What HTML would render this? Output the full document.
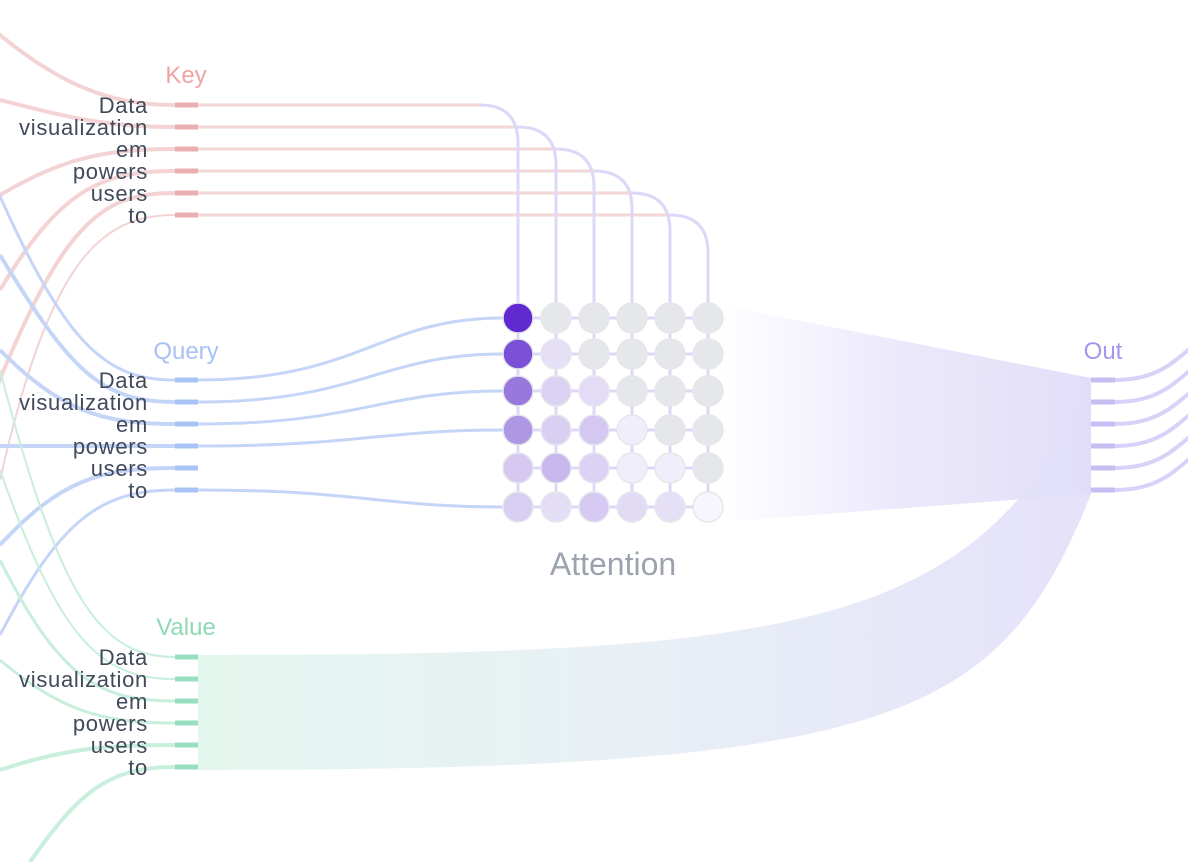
<!DOCTYPE html>
<html><head><meta charset="utf-8"><style>
html,body{margin:0;padding:0;background:#fff;}
svg{display:block;font-family:"Liberation Sans",sans-serif;}
</style></head><body>
<svg width="1188" height="862" viewBox="0 0 1188 862" xmlns="http://www.w3.org/2000/svg">
<defs>
<linearGradient id="att" x1="720" y1="0" x2="1091" y2="0" gradientUnits="userSpaceOnUse">
<stop offset="0" stop-color="#e4e0fa" stop-opacity="0"/><stop offset="0.5" stop-color="#e6e2fa" stop-opacity="0.8"/><stop offset="1" stop-color="#e2defa"/></linearGradient>
<linearGradient id="val" x1="198" y1="0" x2="1091" y2="0" gradientUnits="userSpaceOnUse">
<stop offset="0" stop-color="#e0f5ec"/><stop offset="0.5" stop-color="#e6eef4"/><stop offset="1" stop-color="#e2defa"/></linearGradient>
</defs>
<path d="M720,305 L1091,378 L1091,494 L720,522 Z" fill="url(#att)"/>
<path d="M198,655 C800,655 980,630 1091,380 L1091,494 C1000,720 900,770 198,770 Z" fill="url(#val)" opacity="0.9"/>
<g fill="none" stroke="#f3d3d3" stroke-width="4">
<path d="M-60,-20 C40,80 100,105 175,105"/>
<path d="M0,100 C60,115 100,127 175,127"/>
<path d="M0,195 C60,160 100,149 175,149"/>
<path d="M0,290 C60,190 100,171 175,171"/>
<path d="M-20,430 C60,220 100,193 175,193"/>
<path d="M0,480 C50,260 100,215 175,215" stroke-width="2"/>
</g>
<g fill="none" stroke="#c5d5f8" stroke-width="4">
<path d="M-20,150 C60,340 100,380 175,380" stroke-width="3"/>
<path d="M0,255 C70,370 100,402 175,402"/>
<path d="M0,350 C60,410 100,424 175,424"/>
<path d="M0,446 L175,446"/>
<path d="M0,545 C60,480 100,468 175,468"/>
<path d="M0,635 C60,520 100,490 175,490" stroke-width="3"/>
</g>
<g fill="none" stroke="#c8eedc" stroke-width="3">
<path d="M0,370 C60,600 100,657 175,657" stroke-width="2"/>
<path d="M0,470 C60,640 100,679 175,679" stroke-width="2"/>
<path d="M0,560 C60,680 100,701 175,701"/>
<path d="M0,660 C60,710 100,723 175,723"/>
<path d="M0,770 C60,750 100,745 175,745" stroke-width="4"/>
<path d="M30,862 C80,790 110,767 175,767" stroke-width="4"/>
</g>
<g fill="none" stroke-width="3">
<g stroke="#f3d6d6">
<path d="M198,105 H480"/><path d="M198,127 H518"/><path d="M198,149 H556"/><path d="M198,171 H594"/><path d="M198,193 H632"/><path d="M198,215 H670"/>
</g>
<g stroke="#ddd8f8">
<path d="M480,105 Q518,105 518,143 V318"/>
<path d="M518,127 Q556,127 556,165 V318"/>
<path d="M556,149 Q594,149 594,187 V318"/>
<path d="M594,171 Q632,171 632,209 V318"/>
<path d="M632,193 Q670,193 670,231 V318"/>
<path d="M670,215 Q708,215 708,253 V318"/>
<path d="M518,318 V507 M556,318 V507 M594,318 V507 M632,318 V507 M670,318 V507 M708,318 V507"/>
<path d="M503,318 H708 M503,354 H708 M503,391 H708 M503,430 H708 M518,468 H708 M503,507 H708"/>
</g>
<g stroke="#c5d5f8">
<path d="M198,380 C360,380 380,318 503,318"/>
<path d="M198,402 C360,402 380,354 503,354"/>
<path d="M198,424 C360,424 380,391 503,391"/>
<path d="M198,446 C360,446 380,430 503,430"/>
<path d="M198,490 C360,490 380,507 503,507"/>
</g>
</g>
<g stroke="#e5e7eb" stroke-width="1.5">
<circle cx="518" cy="318" r="15" fill="#6129d0"/><circle cx="556" cy="318" r="15" fill="#e5e7eb"/><circle cx="594" cy="318" r="15" fill="#e5e7eb"/><circle cx="632" cy="318" r="15" fill="#e5e7eb"/><circle cx="670" cy="318" r="15" fill="#e5e7eb"/><circle cx="708" cy="318" r="15" fill="#e5e7eb"/>
<circle cx="518" cy="354" r="15" fill="#7b4fd6"/><circle cx="556" cy="354" r="15" fill="#e6e0f6"/><circle cx="594" cy="354" r="15" fill="#e5e7eb"/><circle cx="632" cy="354" r="15" fill="#e5e7eb"/><circle cx="670" cy="354" r="15" fill="#e5e7eb"/><circle cx="708" cy="354" r="15" fill="#e5e7eb"/>
<circle cx="518" cy="391" r="15" fill="#9878dc"/><circle cx="556" cy="391" r="15" fill="#dcd2f3"/><circle cx="594" cy="391" r="15" fill="#e4dcf6"/><circle cx="632" cy="391" r="15" fill="#e5e7eb"/><circle cx="670" cy="391" r="15" fill="#e5e7eb"/><circle cx="708" cy="391" r="15" fill="#e5e7eb"/>
<circle cx="518" cy="430" r="15" fill="#ae98e4"/><circle cx="556" cy="430" r="15" fill="#d9cff3"/><circle cx="594" cy="430" r="15" fill="#d4c8f1"/><circle cx="632" cy="430" r="15" fill="#f0eefa"/><circle cx="670" cy="430" r="15" fill="#e5e7eb"/><circle cx="708" cy="430" r="15" fill="#e5e7eb"/>
<circle cx="518" cy="468" r="15" fill="#d6c8f1"/><circle cx="556" cy="468" r="15" fill="#c9b8ee"/><circle cx="594" cy="468" r="15" fill="#dcd2f3"/><circle cx="632" cy="468" r="15" fill="#f0eefa"/><circle cx="670" cy="468" r="15" fill="#f0eefa"/><circle cx="708" cy="468" r="15" fill="#e5e7eb"/>
<circle cx="518" cy="507" r="15" fill="#d8cff3"/><circle cx="556" cy="507" r="15" fill="#e4ddf6"/><circle cx="594" cy="507" r="15" fill="#d6caf2"/><circle cx="632" cy="507" r="15" fill="#e2dbf5"/><circle cx="670" cy="507" r="15" fill="#e6e0f7"/><circle cx="708" cy="507" r="15" fill="#f7f6fc"/>
</g>
<g fill="none" stroke="#d8d2f8" stroke-width="4">
<path d="M1115,380 C1160,380 1175,360 1200,340"/>
<path d="M1115,402 C1160,402 1175,382 1200,362"/>
<path d="M1115,424 C1160,424 1175,404 1200,384"/>
<path d="M1115,446 C1160,446 1175,426 1200,406"/>
<path d="M1115,468 C1160,468 1175,448 1200,428"/>
<path d="M1115,490 C1160,490 1175,470 1200,450"/>
</g>
<g stroke-width="5">
<g stroke="#eab0b0"><path d="M175,105H198M175,127H198M175,149H198M175,171H198M175,193H198M175,215H198"/></g>
<g stroke="#a8c4f5"><path d="M175,380H198M175,402H198M175,424H198M175,446H198M175,468H198M175,490H198"/></g>
<g stroke="#98dfc0"><path d="M175,657H198M175,679H198M175,701H198M175,723H198M175,745H198M175,767H198"/></g>
<g stroke="#c7bdf3"><path d="M1091,380H1115M1091,402H1115M1091,424H1115M1091,446H1115M1091,468H1115M1091,490H1115"/></g>
</g>
<g font-size="22" fill="#414a5a" text-anchor="end" letter-spacing="0.7">
<text x="148" y="113">Data</text><text x="148" y="135">visualization</text><text x="148" y="157">em</text><text x="148" y="179">powers</text><text x="148" y="201">users</text><text x="148" y="223">to</text>
<text x="148" y="388">Data</text><text x="148" y="410">visualization</text><text x="148" y="432">em</text><text x="148" y="454">powers</text><text x="148" y="476">users</text><text x="148" y="498">to</text>
<text x="148" y="665">Data</text><text x="148" y="687">visualization</text><text x="148" y="709">em</text><text x="148" y="731">powers</text><text x="148" y="753">users</text><text x="148" y="775">to</text>
</g>
<g font-size="24" text-anchor="middle">
<text x="186" y="83" fill="#f0a4a4">Key</text>
<text x="186" y="359" fill="#a7c1f6">Query</text>
<text x="186" y="635" fill="#8fd9b4">Value</text>
<text x="1103" y="359" fill="#a595ee">Out</text>
</g>
<text x="613" y="575" font-size="32" fill="#9ca3af" text-anchor="middle">Attention</text>
</svg>
</body></html>
